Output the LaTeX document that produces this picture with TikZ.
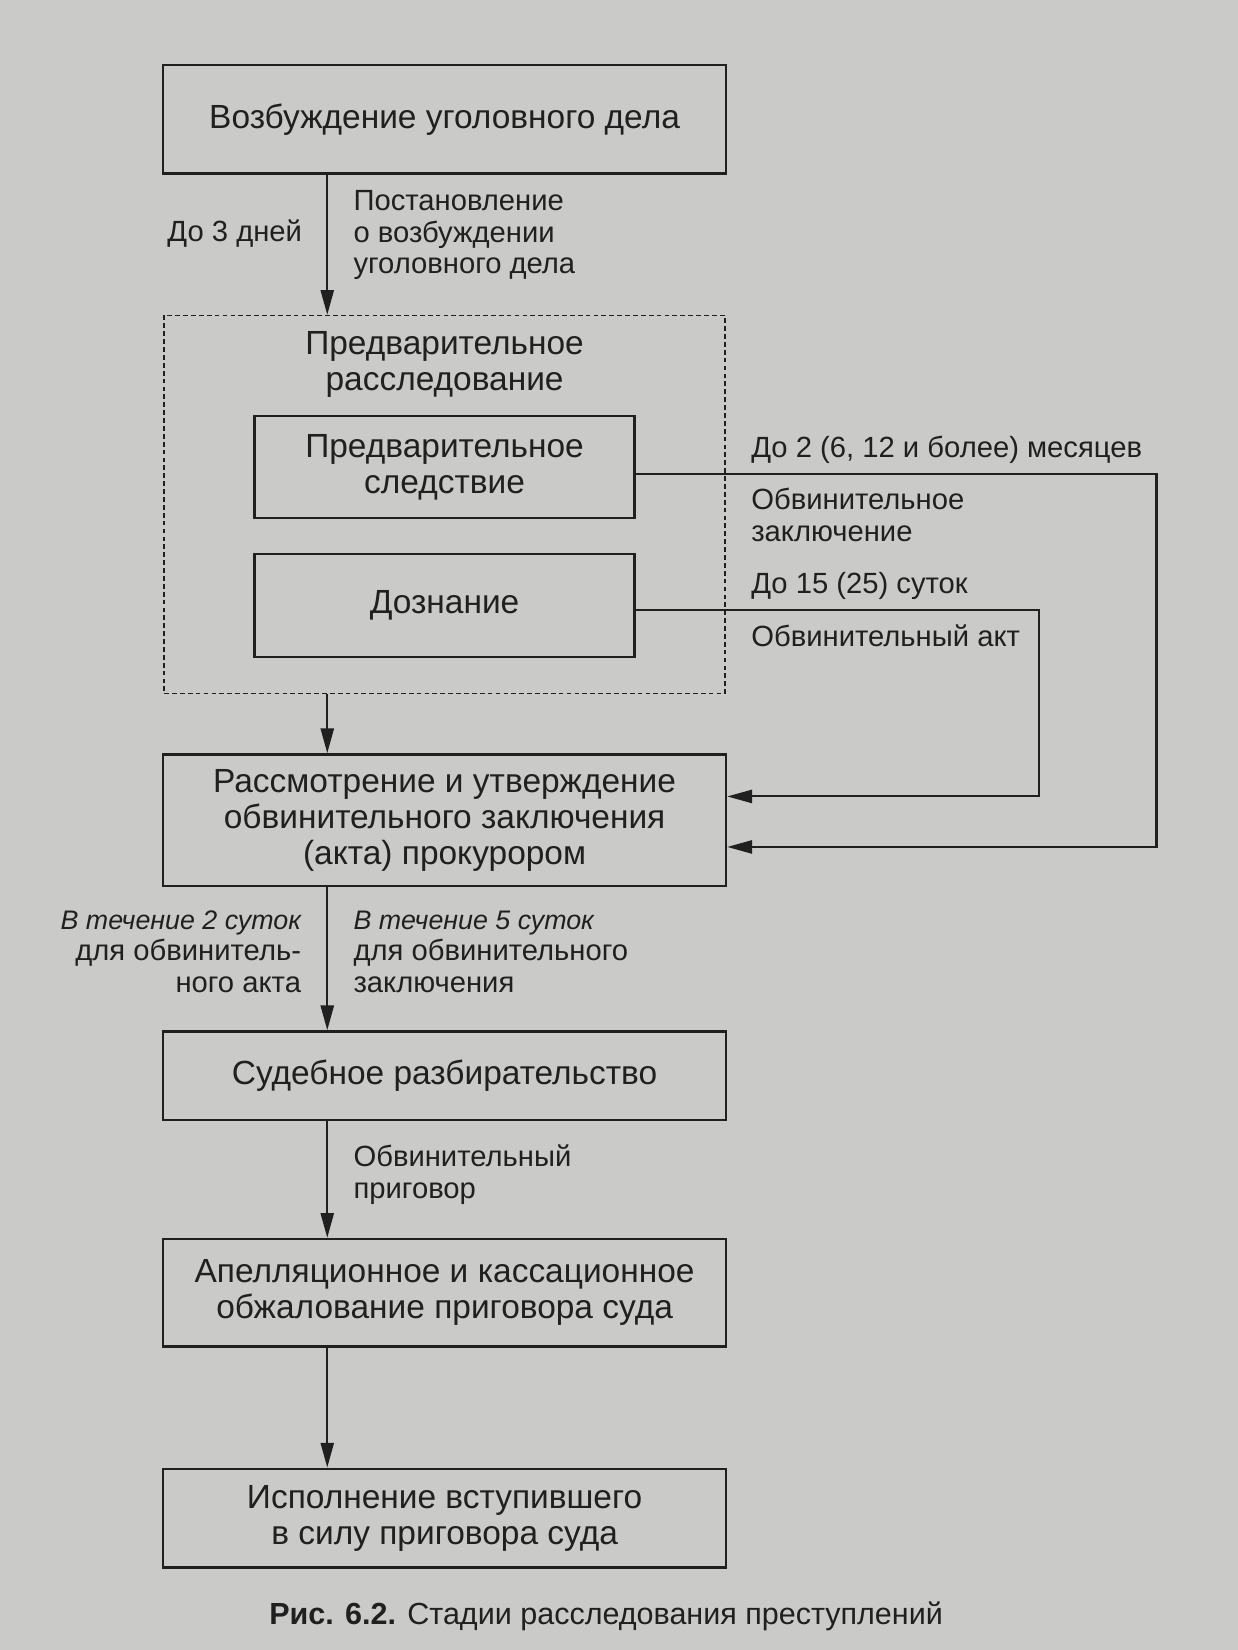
\documentclass[tikz,border=0pt]{standalone}
\usepackage{fontspec}
\setmainfont{Liberation Sans}
\usetikzlibrary{arrows.meta,positioning,calc}
\definecolor{paper}{RGB}{202,202,200}
\definecolor{ink}{RGB}{32,32,32}

\begin{document}
\begin{tikzpicture}[color=ink, line width=1.1pt,
  box/.style={draw=ink, line width=1.3pt, align=center, inner sep=2pt, minimum width=10.7cm, font=\fontsize{18.1}{19.5}\selectfont},
  subbox/.style={box, minimum width=7.22cm},
  frame/.style={draw=ink, dash pattern=on 0.09cm off 0.06cm, line width=0.9pt, minimum width=10.66cm, minimum height=7.18cm, inner sep=0pt},
  note/.style={align=left, inner sep=0pt, font=\fontsize{15.8}{17}\selectfont},
  arr/.style={-{Triangle[length=0.47cm, width=0.25cm]}, line width=1.1pt}]

  \fill[paper] (0,0) rectangle (23.52,-31.36);
  \coordinate (spine) at (6.22,0);
  \coordinate (routeA) at (19.74,0);
  \coordinate (routeB) at (21.98,0);
  \coordinate (labx) at (14.26,0);

  \node[box, minimum height=2.06cm] (init) at (8.45,-2.27) {Возбуждение уголовного дела};
  \node[frame, below=2.66cm of init] (prelim) {};
  \node[subbox, minimum height=1.94cm, below=1.9cm of prelim.north] (invest) {Предварительное\\следствие};
  \node[align=center, font=\fontsize{18.1}{19.5}\selectfont] (prelimtitle) at ($(prelim.north)!0.5!(invest.north)$) {Предварительное\\расследование};
  \node[subbox, minimum height=1.96cm, below=0.64cm of invest] (inquiry) {Дознание};
  \node[box, minimum height=2.5cm, below=1.12cm of prelim] (review) {Рассмотрение и утверждение\\обвинительного заключения\\(акта) прокурором};
  \node[box, minimum height=1.68cm, below=2.72cm of review] (trial) {Судебное разбирательство};
  \node[box, minimum height=2.04cm, below=2.22cm of trial] (appeal) {Апелляционное и кассационное\\обжалование приговора суда};
  \node[box, minimum height=1.88cm, below=2.28cm of appeal] (exec) {Исполнение вступившего\\в силу приговора суда};
  \node[inner sep=0pt, font=\fontsize{16.5}{18}\selectfont, below=0.6cm of exec, xshift=3.07cm] (caption) {\textbf{Рис. 6.2.} Стадии расследования преступлений};

  \draw[arr] (init.south -| spine) -- node[note, pos=0.42, left=0.46cm, align=right] (delay) {До 3 дней} node[note, pos=0.43, right=0.48cm] (decree) {Постановление\\о возбуждении\\уголовного дела} (prelim.north -| spine);
  \draw[arr] (prelim.south -| spine) -- (review.north -| spine);
  \draw[arr] (review.south -| spine) -- node[note, pos=0.45, left=0.48cm, align=right] (termact) {{\fontsize{14.5}{17}\selectfont\itshape В течение 2 суток}\\для обвинитель-\\ного акта} node[note, pos=0.45, right=0.48cm] (termconcl) {{\fontsize{14.5}{17}\selectfont\itshape В течение 5 суток}\\для обвинительного\\заключения} (trial.north -| spine);
  \draw[arr] (trial.south -| spine) -- node[note, pos=0.46, right=0.48cm] (verdict) {Обвинительный\\приговор} (appeal.north -| spine);
  \draw[arr] (appeal.south -| spine) -- (exec.north -| spine);

  \draw[arr] ($(invest.east)+(0,-0.13)$) -| ($(review.east -| routeB)+(0,-0.51)$) -- ($(review.east)+(0,-0.51)$);
  \draw[arr] ($(inquiry.east)+(0,-0.08)$) -| ($(review.east -| routeA)+(0,0.45)$) -- ($(review.east)+(0,0.45)$);

  \node[note, anchor=west, yshift=0.33cm] (termA) at (invest.east -| labx) {До 2 (6, 12 и более) месяцев};
  \node[note, anchor=west, yshift=-0.91cm] (docA) at (invest.east -| labx) {Обвинительное\\заключение};
  \node[note, anchor=west, yshift=0.38cm] (termB) at (inquiry.east -| labx) {До 15 (25) суток};
  \node[note, anchor=west, yshift=-0.58cm] (docB) at (inquiry.east -| labx) {Обвинительный акт};
\end{tikzpicture}
\end{document}
